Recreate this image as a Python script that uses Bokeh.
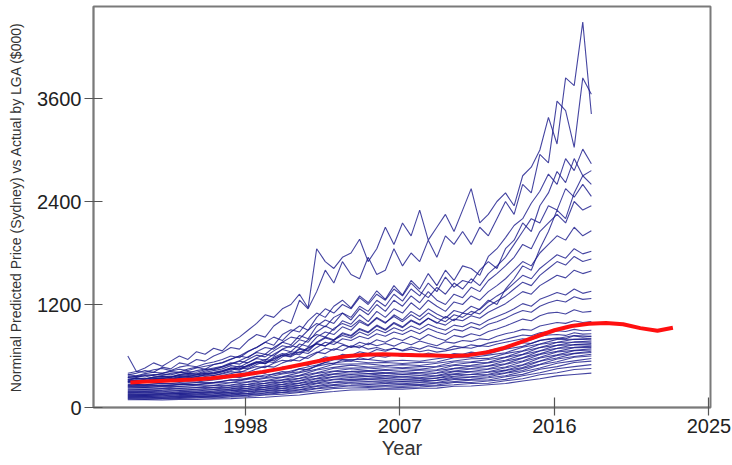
from bokeh.plotting import figure
from bokeh.models import FixedTicker, Range1d
from bokeh.embed import file_html
from bokeh.resources import INLINE

# ---------------- data ----------------
x_ticks = [1998, 2007, 2016, 2025]
y_ticks = [0, 1200, 2400, 3600]
x_label = "Year"
y_label = "Norminal Predicted Price (Sydney) vs Actual by LGA ($000)"

# half-yearly observation dates 1991.15 ... 2018.15 (55 points)
half_years = [1991.15 + 0.5 * k for k in range(55)]
# yearly observation dates 1991.15 ... 2018.15 (28 points)
annual_years = [1991.15 + k for k in range(28)]

# --- upper, jagged LGAs (half-yearly) ---
lga_t1 = [600, 420, 460, 520, 480, 540, 600, 560, 650, 620,
          690, 660, 760, 820, 900, 980, 1080, 1050, 1150, 1200,
          1320, 1160, 1850, 1700, 1620, 1750, 1800, 1960, 1700, 1850,
          2100, 1900, 2150, 2000, 2300, 1950, 2100, 2250, 2050, 2300,
          2550, 2150, 2250, 2400, 2500, 2350, 2700, 2800, 3000, 3380,
          3070, 3840, 3750, 4490, 3420]
lga_t2 = [380, 400, 430, 410, 470, 450, 520, 500, 560, 540,
          600, 640, 700, 680, 780, 850, 820, 950, 1020, 980,
          1250, 1150, 1350, 1600, 1450, 1700, 1550, 1500, 1750, 1550,
          1600, 1850, 1650, 1800, 1700, 1950, 1750, 2000, 1900, 2050,
          1900, 2100, 2000, 2200, 2400, 2250, 2600, 2500, 2950, 2850,
          3570, 3460, 3030, 3840, 3650]
lga_g1 = [350, 365, 380, 372, 398, 420, 410, 448, 470, 445,
          500, 525, 565, 600, 655, 700, 760, 725, 850, 905,
          880, 1010, 1100, 1050, 1180, 1250, 1160, 1300, 1220, 1360,
          1260, 1420, 1310, 1480, 1380, 1560, 1420, 1600, 1480, 1650,
          1620, 1540, 1760, 1850, 1980, 2120, 2200, 2380, 2520, 2720,
          2600, 2900, 2760, 3010, 2840]
lga_g2 = [320, 335, 330, 352, 360, 348, 385, 400, 392, 425,
          450, 470, 510, 545, 590, 640, 620, 700, 760, 730,
          840, 800, 950, 1020, 980, 1100, 1050, 1180, 1120, 1250,
          1180, 1320, 1240, 1380, 1300, 1450, 1350, 1520, 1400, 1480,
          1450, 1600, 1700, 1620, 1850, 1950, 2150, 2050, 2350, 2500,
          2750, 2620, 2900, 2700, 2760]
lga_g3 = [300, 312, 306, 325, 334, 328, 350, 362, 355, 378,
          395, 415, 450, 435, 485, 525, 510, 570, 615, 598,
          680, 655, 750, 810, 780, 860, 830, 910, 870, 950,
          900, 980, 930, 1010, 960, 1040, 980, 1060, 1010, 1100,
          1080, 1150, 1250, 1200, 1380, 1500, 1650, 1600, 1850, 2050,
          2300, 2200, 2500, 2700, 2600]
lga_u1 = [400, 420, 410, 440, 455, 430, 470, 490, 475, 510,
          530, 560, 600, 580, 650, 700, 760, 820, 780, 880,
          950, 900, 1050, 1150, 1100, 1200, 1150, 1280, 1200, 1320,
          1250, 1380, 1300, 1450, 1350, 1280, 1400, 1320, 1450, 1380,
          1500, 1420, 1560, 1650, 1750, 1900, 2050, 2200, 2150, 2350,
          2300, 2550, 2450, 2600, 2460]
lga_u2 = [380, 370, 395, 410, 400, 425, 445, 430, 460, 480,
          500, 520, 560, 600, 580, 650, 700, 680, 760, 820,
          800, 900, 980, 940, 1050, 1100, 1020, 1150, 1080, 1200,
          1120, 1250, 1180, 1300, 1220, 1350, 1250, 1200, 1320, 1280,
          1400, 1350, 1480, 1560, 1650, 1750, 1900, 1850, 2050, 2150,
          2250, 2150, 2400, 2300, 2350]
lga_u3 = [350, 365, 355, 378, 390, 380, 405, 420, 410, 440,
          460, 480, 520, 505, 560, 610, 590, 660, 720, 700,
          790, 760, 880, 950, 900, 1010, 970, 1080, 1000, 1120,
          1050, 1150, 1100, 1220, 1140, 1250, 1180, 1120, 1230, 1200,
          1300, 1250, 1350, 1420, 1500, 1600, 1700, 1650, 1800, 1900,
          2000, 1950, 2100, 2000, 2060]
lga_u4 = [330, 342, 335, 355, 368, 360, 382, 395, 388, 410,
          430, 450, 488, 470, 525, 570, 550, 620, 675, 650,
          740, 710, 820, 880, 850, 940, 900, 1000, 950, 1040,
          980, 1080, 1020, 1120, 1060, 1150, 1090, 1040, 1130, 1100,
          1180, 1140, 1230, 1300, 1360, 1450, 1540, 1500, 1620, 1700,
          1780, 1740, 1850, 1790, 1820]
lga_u5 = [360, 350, 372, 385, 375, 398, 412, 400, 430, 448,
          440, 475, 505, 540, 520, 580, 620, 600, 680, 720,
          700, 790, 850, 820, 920, 980, 940, 1020, 960, 1050,
          990, 1060, 1000, 1080, 1020, 1100, 1040, 1000, 1080, 1050,
          1120, 1090, 1180, 1240, 1300, 1380, 1460, 1420, 1540, 1620,
          1700, 1660, 1760, 1700, 1730]
lga_u6 = [310, 322, 315, 335, 345, 338, 360, 372, 365, 388,
          405, 425, 460, 445, 495, 535, 520, 585, 630, 610,
          690, 665, 760, 820, 790, 870, 840, 920, 880, 960,
          910, 990, 940, 1020, 970, 1040, 990, 960, 1030, 1010,
          1070, 1040, 1110, 1160, 1210, 1280, 1350, 1320, 1420, 1480,
          1540, 1510, 1600, 1560, 1590]
lga_u7 = [300, 292, 310, 322, 315, 335, 348, 340, 362, 378,
          372, 400, 430, 462, 450, 500, 540, 525, 590, 630,
          615, 690, 740, 715, 790, 840, 810, 880, 840, 910,
          870, 930, 890, 950, 910, 970, 930, 900, 960, 940,
          990, 960, 1020, 1060, 1100, 1150, 1210, 1180, 1260, 1300,
          1340, 1310, 1380, 1330, 1355]
lga_m1 = [330, 340, 335, 352, 360, 355, 372, 385, 378, 398,
          410, 430, 460, 448, 490, 525, 510, 565, 605, 590,
          650, 630, 700, 760, 735, 800, 780, 830, 800, 860,
          830, 880, 850, 900, 860, 920, 880, 850, 910, 890,
          940, 910, 970, 1000, 1040, 1090, 1130, 1110, 1180, 1220,
          1250, 1230, 1290, 1260, 1270]
lga_m2 = [300, 310, 305, 320, 328, 322, 340, 350, 344, 362,
          372, 390, 418, 405, 445, 478, 465, 515, 550, 538,
          590, 572, 635, 690, 668, 725, 705, 760, 730, 790,
          760, 810, 780, 830, 790, 850, 810, 780, 840, 820,
          860, 835, 885, 915, 950, 990, 1030, 1010, 1070, 1100,
          1110, 1090, 1140, 1110, 1120]
lga_m3 = [290, 284, 298, 308, 302, 318, 328, 322, 340, 352,
          348, 372, 395, 420, 410, 450, 482, 470, 520, 555,
          542, 600, 645, 628, 685, 665, 720, 695, 750, 720,
          745, 715, 760, 730, 775, 745, 720, 765, 750, 780,
          770, 800, 790, 830, 860, 880, 910, 900, 950, 970,
          990, 980, 1010, 990, 1000]
lga_m4 = [260, 268, 264, 276, 282, 278, 292, 300, 296, 310,
          320, 335, 358, 348, 380, 408, 398, 440, 470, 460,
          505, 490, 545, 590, 572, 620, 605, 650, 628, 675,
          655, 690, 668, 705, 680, 720, 695, 675, 715, 700,
          730, 715, 750, 770, 795, 820, 845, 835, 870, 885,
          895, 885, 910, 895, 900]
lga_m5 = [320, 312, 330, 342, 335, 355, 368, 360, 382, 398,
          392, 420, 450, 482, 470, 520, 560, 545, 610, 650,
          635, 700, 745, 720, 770, 740, 700, 720, 680, 700,
          670, 690, 660, 680, 650, 670, 645, 660, 680, 700,
          690, 720, 710, 740, 760, 780, 800, 790, 830, 845,
          850, 840, 870, 855, 860]
lga_m6 = [240, 246, 243, 252, 258, 255, 266, 272, 268, 280,
          290, 302, 322, 314, 342, 365, 356, 392, 418, 410,
          450, 438, 485, 525, 510, 555, 540, 580, 560, 600,
          585, 615, 595, 625, 605, 635, 615, 600, 630, 620,
          645, 632, 665, 685, 705, 730, 755, 745, 780, 800,
          810, 800, 835, 820, 830]

# --- lower band LGAs (yearly) ---
lga_b01 = [90, 92, 89, 95, 93, 100, 103, 114, 120, 134,
           146, 170, 186, 204, 206, 214, 214, 224, 226, 248,
           250, 265, 280, 308, 335, 368, 385, 400]
lga_b02 = [100, 98, 104, 105, 110, 111, 122, 128, 146, 154,
           175, 193, 222, 228, 231, 224, 235, 238, 252, 265,
           280, 282, 312, 335, 382, 405, 442, 455]
lga_b03 = [108, 110, 107, 117, 114, 124, 128, 144, 152, 173,
           185, 218, 234, 254, 244, 248, 247, 258, 262, 292,
           292, 309, 328, 370, 405, 452, 476, 500]
lga_b04 = [115, 113, 119, 120, 127, 127, 142, 147, 168, 177,
           204, 224, 258, 262, 267, 256, 269, 266, 284, 302,
           319, 321, 358, 386, 446, 476, 524, 540]
lga_b05 = [122, 124, 121, 132, 129, 140, 144, 164, 172, 196,
           208, 246, 266, 286, 274, 279, 276, 289, 292, 326,
           328, 347, 370, 416, 460, 515, 543, 570]
lga_b06 = [130, 127, 134, 135, 142, 142, 159, 166, 191, 200,
           230, 254, 292, 296, 300, 288, 300, 296, 316, 336,
           354, 358, 399, 432, 498, 534, 586, 600]
lga_b07 = [138, 140, 137, 149, 145, 157, 162, 184, 194, 220,
           234, 276, 298, 318, 305, 309, 304, 314, 318, 356,
           358, 379, 404, 456, 504, 566, 594, 620]
lga_b08 = [145, 141, 149, 150, 158, 159, 177, 186, 213, 224,
           256, 284, 324, 328, 330, 317, 327, 321, 342, 364,
           384, 388, 430, 466, 538, 576, 628, 640]
lga_b09 = [152, 155, 151, 164, 159, 172, 178, 202, 214, 242,
           258, 304, 329, 350, 335, 337, 330, 339, 344, 385,
           388, 410, 435, 492, 542, 606, 632, 655]
lga_b10 = [160, 156, 165, 165, 174, 175, 195, 204, 234, 246,
           281, 311, 355, 358, 360, 344, 355, 346, 368, 392,
           413, 417, 463, 499, 577, 613, 662, 670]
lga_b11 = [168, 171, 166, 180, 176, 190, 197, 223, 237, 267,
           285, 334, 360, 383, 365, 368, 359, 370, 373, 418,
           420, 446, 472, 532, 586, 646, 666, 685]
lga_b12 = [176, 172, 181, 182, 192, 193, 214, 225, 256, 271,
           309, 341, 388, 390, 392, 373, 384, 376, 399, 425,
           448, 452, 504, 542, 618, 654, 696, 700]
lga_b13 = [185, 188, 183, 198, 193, 210, 217, 245, 259, 293,
           313, 366, 392, 416, 397, 400, 389, 400, 405, 452,
           454, 482, 510, 575, 625, 688, 700, 715]
lga_b14 = [195, 191, 201, 201, 212, 213, 237, 248, 281, 297,
           337, 370, 420, 421, 424, 405, 416, 405, 431, 456,
           482, 486, 541, 579, 658, 690, 732, 730]
lga_b15 = [205, 208, 203, 218, 213, 230, 238, 268, 283, 319,
           341, 398, 426, 452, 430, 434, 423, 436, 440, 490,
           492, 520, 550, 616, 662, 724, 732, 745]
lga_b16 = [215, 211, 221, 221, 233, 233, 259, 270, 307, 323,
           368, 404, 458, 460, 462, 442, 455, 444, 472, 498,
           524, 528, 584, 620, 698, 726, 764, 760]
lga_b17 = [228, 231, 226, 242, 236, 255, 262, 296, 311, 351,
           374, 436, 468, 494, 472, 474, 464, 476, 480, 530,
           532, 560, 588, 656, 700, 758, 764, 775]
lga_b18 = [240, 235, 247, 246, 259, 259, 288, 300, 341, 357,
           406, 446, 504, 506, 508, 487, 500, 489, 516, 542,
           568, 572, 628, 662, 736, 760, 796, 790]
lga_b19 = [255, 259, 252, 271, 264, 286, 292, 330, 346, 390,
           416, 482, 518, 544, 522, 524, 513, 526, 530, 580,
           582, 610, 638, 702, 740, 794, 796, 805]
lga_b20 = [270, 264, 277, 275, 291, 290, 321, 336, 379, 399,
           452, 496, 556, 560, 560, 537, 550, 539, 568, 594,
           620, 624, 680, 712, 782, 804, 838, 830]

# --- predicted (red) curve ---
red_years = [1991.3, 1992, 1993, 1994, 1995, 1996, 1997, 1998, 1999, 2000,
             2001, 2002, 2003, 2004, 2005, 2006, 2007, 2008, 2009, 2010,
             2011, 2012, 2013, 2014, 2015, 2016, 2017, 2018, 2019, 2020,
             2021, 2022, 2022.9]
red_vals = [292, 300, 310, 318, 327, 340, 360, 385, 415, 450,
            490, 530, 570, 600, 615, 620, 615, 610, 605, 600,
            610, 640, 690, 760, 830, 900, 950, 975, 985, 970,
            925, 895, 930]

half_series = [lga_t1, lga_t2, lga_g1, lga_g2, lga_g3, lga_u1, lga_u2, lga_u3,
               lga_u4, lga_u5, lga_u6, lga_u7, lga_m1, lga_m2, lga_m3, lga_m4,
               lga_m5, lga_m6]
annual_series = [lga_b01, lga_b02, lga_b03, lga_b04, lga_b05, lga_b06, lga_b07,
                 lga_b08, lga_b09, lga_b10, lga_b11, lga_b12, lga_b13, lga_b14,
                 lga_b15, lga_b16, lga_b17, lga_b18, lga_b19, lga_b20]

# ---------------- figure ----------------
p = figure(width=732, height=465, output_backend="svg", toolbar_location=None,
           x_range=Range1d(1989.15, 2025.09), y_range=Range1d(0, 4672),
           min_border_left=93, min_border_right=22, min_border_top=6,
           min_border_bottom=58)
p.background_fill_color = "white"
p.border_fill_color = "white"
p.outline_line_color = "#7a7a7a"
p.outline_line_width = 2
p.xgrid.visible = False
p.ygrid.visible = False

blue = "#16168a"
for vals in annual_series:
    p.line(annual_years[:len(vals)], vals, line_color=blue, line_width=1.1, line_alpha=0.8)
for vals in half_series:
    p.line(half_years[:len(vals)], vals, line_color=blue, line_width=1.1, line_alpha=0.8)

p.line(red_years, red_vals, line_color="#ff1010", line_width=4)

font = "Liberation Sans"
for ax, ticks in ((p.xaxis, x_ticks), (p.yaxis, y_ticks)):
    ax.ticker = FixedTicker(ticks=ticks)
    ax.minor_tick_line_color = None
    ax.axis_line_color = "#7a7a7a"
    ax.axis_line_width = 1.5
    ax.major_tick_line_color = "#555555"
    ax.major_tick_line_width = 1.2
    ax.major_label_text_font = font
    ax.major_label_text_font_size = "20px"
    ax.major_label_text_color = "#222222"
    ax.axis_label_text_font = font
    ax.axis_label_text_font_style = "normal"
    ax.axis_label_text_color = "#333333"

p.xaxis.major_tick_in = 10
p.xaxis.major_tick_out = 8
p.xaxis.major_label_standoff = 3
p.xaxis.axis_label = x_label
p.xaxis.axis_label_text_font_size = "20px"
p.xaxis.axis_label_standoff = 1

p.yaxis.major_tick_in = 9
p.yaxis.major_tick_out = 9
p.yaxis.major_label_standoff = 3
p.yaxis.axis_label = y_label
p.yaxis.axis_label_text_font_size = "14px"
p.yaxis.axis_label_standoff = 10

open("out.html", "w").write(file_html(p, INLINE))
